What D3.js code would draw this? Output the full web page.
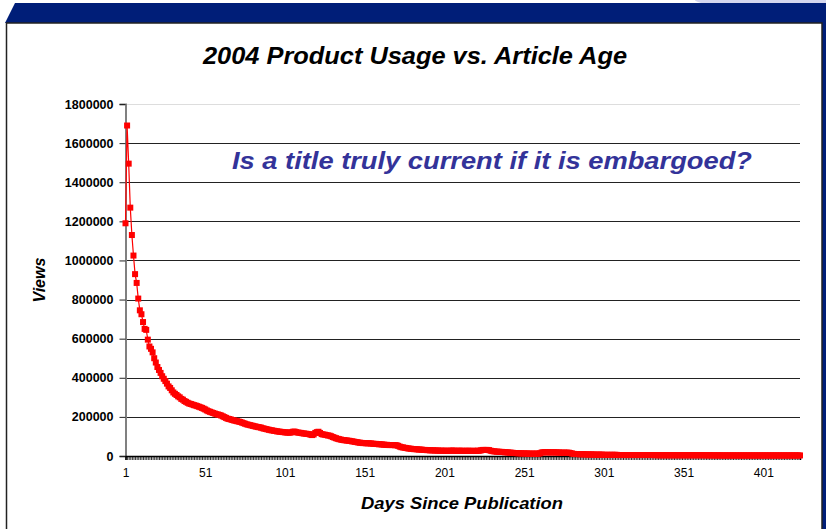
<!DOCTYPE html>
<html>
<head>
<meta charset="utf-8">
<script src="https://cdn.jsdelivr.net/npm/d3@7"></script>
<style>
  body { margin: 0; background: #fff; }
  svg { display: block; font-family: "Liberation Sans", Arial, sans-serif; }
</style>
</head>
<body>
<div id="chart"></div>
<script>
// Views per day since publication
var views = [
  1190000,1690000,1495000,1270000,1130000,1025000,930000,885000,805000,745000,
  725000,685000,650000,645000,595000,560000,548000,530000,500000,478000,
  455000,440000,425000,408000,395000,383000,370000,356000,348000,336000,
  325000,318000,312000,305000,300000,292000,288000,281000,277000,272000,
  268000,266000,263000,260000,258000,255000,252000,249000,246000,242000,
  238000,233000,229000,226000,223000,220000,217000,214000,212000,210000,
  207000,203000,199000,195000,191000,189000,187000,184000,182000,180000,
  178000,176000,174000,171000,168000,165000,162000,160000,158000,156000,
  154000,152000,150000,148000,147000,145000,142000,140000,138000,136000,
  134000,132000,131000,129000,128000,126000,125000,124000,123000,122000,
  121000,120000,120000,119000,121000,124000,125000,122000,120000,119000,
  118000,116000,115000,114000,113000,112000,109000,107000,110000,118000,
  122000,124000,118000,112000,110000,109000,107000,105000,104000,101000,
  97000,94000,91000,88000,86000,84000,82000,81000,80000,79000,
  78000,77000,75000,74000,72000,71000,69000,68000,67000,66000,
  66000,65000,65000,65000,64000,63000,62000,62000,61000,60000,
  60000,59000,58000,57000,57000,56000,56000,56000,56000,55000,
  55000,52000,48000,45000,44000,42000,41000,39000,38000,37000,
  36000,35000,35000,34000,33000,33000,32000,31000,31000,30000,
  30000,29000,29000,29000,28000,28000,28000,27000,27000,27000,
  27000,27000,26000,27000,27000,28000,27000,27000,26000,27000,
  27000,27000,26000,26000,27000,27000,26000,26000,27000,26000,
  26000,27000,27000,29000,31000,31000,31000,31000,30000,27000,
  25000,24000,23000,22000,22000,21000,21000,20000,19000,19000,
  18000,17000,17000,16000,15000,15000,14000,14000,14000,13000,
  13000,13000,13000,12000,12000,12000,12000,12000,12000,12000,
  14000,18000,19000,19000,19000,19000,19000,18000,19000,19000,
  18000,18000,18000,17000,17000,17000,17000,17000,17000,15000,
  13000,11000,10000,10000,10000,9000,9000,9000,9000,8000,
  8000,8000,8000,8000,7000,7000,7000,7000,7000,7000,
  6000,6000,6000,6000,6000,6000,6000,6000,6000,5000,
  5000,5000,5000,5000,5000,5000,5000,5000,5000,5000,
  5000,5000,5000,5000,5000,5000,5000,5000,5000,5000,
  5000,5000,4000,5000,4000,4000,4000,4000,4000,4000,
  4000,4000,4000,4000,4000,4000,4000,4000,4000,4000,
  4000,4000,4000,4000,4000,4000,4000,4000,4000,4000,
  4000,4000,4000,4000,4000,3000,4000,4000,3000,4000,
  3000,3000,4000,3000,3000,3000,3000,3000,3000,3000,
  3000,3000,3000,3000,3000,3000,3000,3000,3000,3000,
  3000,3000,3000,3000,3000,3000,3000,3000,3000,3000,
  3000,3000,3000,3000,3000,3000,3000,3000,3000,3000,
  3000,3000,3000,3000,3000,3000,3000,3000,3000,3000,
  3000,3000,3000,3000
];
var days = d3.range(1, views.length + 1);
var xTickLabels = [1, 51, 101, 151, 201, 251, 301, 351, 401];
var yTicks = [0, 200000, 400000, 600000, 800000, 1000000, 1200000, 1400000, 1600000, 1800000];

var chartTitle = "2004 Product Usage vs. Article Age";
var subTitle = "Is a title truly current if it is embargoed?";

var width = 826, height = 529;
var plot = {left: 125.5, right: 800, top: 104, bottom: 456};

var svg = d3.select("#chart").append("svg")
    .attr("width", width)
    .attr("height", height);

// slide frame
svg.append("rect").attr("width", width).attr("height", height).attr("fill", "#fff");
svg.append("ellipse")
    .attr("cx", 765).attr("cy", 0).attr("rx", 70).attr("ry", 7)
    .attr("fill", "#d4d6ee");
svg.append("path")
    .attr("d", "M15,3 L826,3 L826,23 L5,23 Z")
    .attr("fill", "#001e78");
svg.append("rect")
    .attr("x", 822).attr("y", 3).attr("width", 4).attr("height", height)
    .attr("fill", "#001e78");
svg.append("rect")
    .attr("x", 6.5).attr("y", 23).attr("width", 815.5).attr("height", 520)
    .attr("fill", "#fff")
    .attr("stroke", "#222").attr("stroke-width", 1.5);

// scales
var x = d3.scalePoint().domain(days).range([plot.left, plot.right]);
var y = d3.scaleLinear().domain([0, 1800000]).range([plot.bottom, plot.top]);

// gridlines
svg.append("g")
    .selectAll("line")
    .data(yTicks.slice(1))
    .enter().append("line")
    .attr("x1", plot.left).attr("x2", plot.right)
    .attr("y1", function(d) { return Math.round(y(d)) + 0.5; })
    .attr("y2", function(d) { return Math.round(y(d)) + 0.5; })
    .attr("stroke", function(d) { return d == 1800000 ? "#ddd" : "#222"; })
    .attr("stroke-width", 1);

// y axis
var yAxis = svg.append("g")
    .attr("transform", "translate(" + plot.left + ",0)")
    .call(d3.axisLeft(y).tickValues(yTicks).tickSize(6).tickPadding(6)
        .tickFormat(d3.format("d")));
yAxis.select(".domain").attr("stroke", "#808080").attr("stroke-width", 2);
yAxis.selectAll(".tick line").attr("stroke", "#222");
yAxis.selectAll("text")
    .attr("font-size", 12.5).attr("font-weight", "bold").attr("fill", "#000")
    .attr("font-family", "Liberation Sans, Arial, sans-serif");

// x axis: one small tick per day, label every 50 days
var xAxis = svg.append("g")
    .attr("transform", "translate(0," + plot.bottom + ")")
    .call(d3.axisBottom(x).tickValues(days).tickSize(4).tickPadding(8)
        .tickFormat(function(d) { return xTickLabels.indexOf(d) >= 0 ? d : ""; }));
xAxis.select(".domain").attr("stroke", "#000").attr("stroke-width", 1.5);
xAxis.selectAll(".tick line").attr("stroke", "#000").attr("stroke-width", 0.8);
xAxis.selectAll("text")
    .attr("font-size", 12).attr("fill", "#000")
    .attr("font-family", "Liberation Sans, Arial, sans-serif");

// series
var line = d3.line()
    .x(function(d, i) { return x(days[i]); })
    .y(function(d) { return y(d); });

svg.append("path")
    .datum(views)
    .attr("d", line)
    .attr("fill", "none")
    .attr("stroke", "#ff0000")
    .attr("stroke-width", 1.2);

svg.append("g")
    .selectAll("rect")
    .data(views)
    .enter().append("rect")
    .attr("x", function(d, i) { return x(days[i]) - 3; })
    .attr("y", function(d) { return y(d) - 3; })
    .attr("width", 6).attr("height", 6)
    .attr("fill", "#ff0000");

// titles
svg.append("text")
    .attr("x", 415).attr("y", 64)
    .attr("text-anchor", "middle")
    .attr("font-size", 23).attr("font-weight", "bold").attr("font-style", "italic")
    .attr("textLength", 424).attr("lengthAdjust", "spacingAndGlyphs")
    .text(chartTitle);

svg.append("text")
    .attr("x", 492).attr("y", 169)
    .attr("text-anchor", "middle")
    .attr("fill", "#333399")
    .attr("font-size", 23).attr("font-weight", "bold").attr("font-style", "italic")
    .attr("textLength", 520).attr("lengthAdjust", "spacingAndGlyphs")
    .text(subTitle);

svg.append("text")
    .attr("transform", "translate(45,280) rotate(-90)")
    .attr("text-anchor", "middle")
    .attr("font-size", 16).attr("font-weight", "bold").attr("font-style", "italic")
    .attr("textLength", 45).attr("lengthAdjust", "spacingAndGlyphs")
    .text("Views");

svg.append("text")
    .attr("x", 462).attr("y", 509)
    .attr("text-anchor", "middle")
    .attr("font-size", 17).attr("font-weight", "bold").attr("font-style", "italic")
    .attr("textLength", 202).attr("lengthAdjust", "spacingAndGlyphs")
    .text("Days Since Publication");
</script>
</body>
</html>
